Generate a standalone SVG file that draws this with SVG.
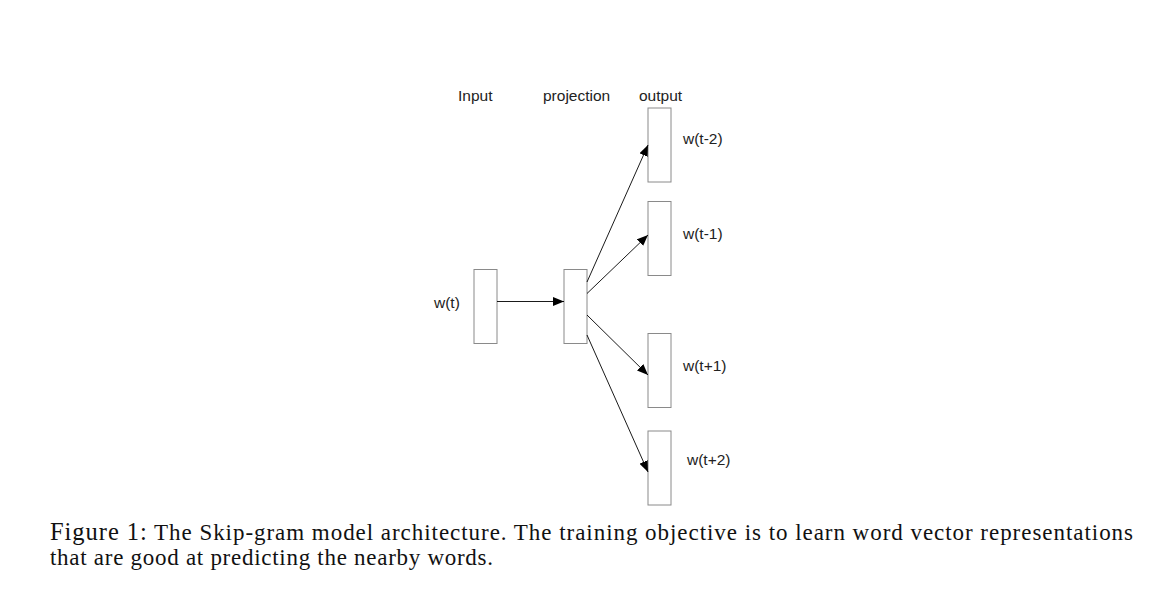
<svg xmlns="http://www.w3.org/2000/svg" width="1176" height="602" viewBox="0 0 1176 602">
<defs>
<style>
.box{fill:#fff;stroke:#8a8a8a;stroke-width:1}
.lbl{font-family:"Liberation Sans",Arial,sans-serif;font-size:15.5px;fill:#222}
.edge{stroke:#000;stroke-width:0.9;fill:none;marker-end:url(#ah)}
.cap{font-family:"Liberation Serif","Times New Roman",serif;font-size:23px;fill:#111}
</style>
<marker id="ah" viewBox="0 0 11 9" refX="11" refY="4.5" markerWidth="11" markerHeight="9" markerUnits="userSpaceOnUse" orient="auto">
<path d="M0,0 L11,4.5 L0,9 Z" fill="#000"/>
</marker>
</defs>
<rect width="1176" height="602" fill="#fff"/>
<g id="headers">
<text class="lbl" x="458" y="101">Input</text>
<text class="lbl" x="543" y="101">projection</text>
<text class="lbl" x="639" y="101">output</text>
</g>
<g id="input">
<rect class="box" x="474" y="269.5" width="23" height="74"/>
<text class="lbl" x="434" y="308">w(t)</text>
</g>
<g id="projection">
<rect class="box" x="564" y="269.5" width="23" height="74"/>
</g>
<g id="out-t-2">
<rect class="box" x="648" y="108" width="23" height="74"/>
<text class="lbl" x="683" y="144">w(t-2)</text>
</g>
<g id="out-t-1">
<rect class="box" x="648" y="201.5" width="23" height="74"/>
<text class="lbl" x="683" y="239">w(t-1)</text>
</g>
<g id="out-t+1">
<rect class="box" x="648" y="333.5" width="23" height="74"/>
<text class="lbl" x="683" y="371">w(t+1)</text>
</g>
<g id="out-t+2">
<rect class="box" x="648" y="431" width="23" height="74"/>
<text class="lbl" x="687" y="465">w(t+2)</text>
</g>
<g id="connectors">
<line class="edge" x1="497" y1="301.5" x2="564" y2="301.5"/>
<line class="edge" x1="587" y1="282" x2="648" y2="145"/>
<line class="edge" x1="587" y1="293.5" x2="648" y2="235"/>
<line class="edge" x1="587" y1="315" x2="648" y2="375"/>
<line class="edge" x1="587" y1="335" x2="648" y2="472"/>
</g>
<g id="caption">
<text class="cap" x="50" y="540" textLength="1083" lengthAdjust="spacing"><tspan font-size="24.5px">Figure 1:</tspan> The Skip-gram model architecture. The training objective is to learn word vector representations</text>
<text class="cap" x="50" y="565" textLength="443" lengthAdjust="spacing">that are good at predicting the nearby words.</text>
</g>
</svg>
